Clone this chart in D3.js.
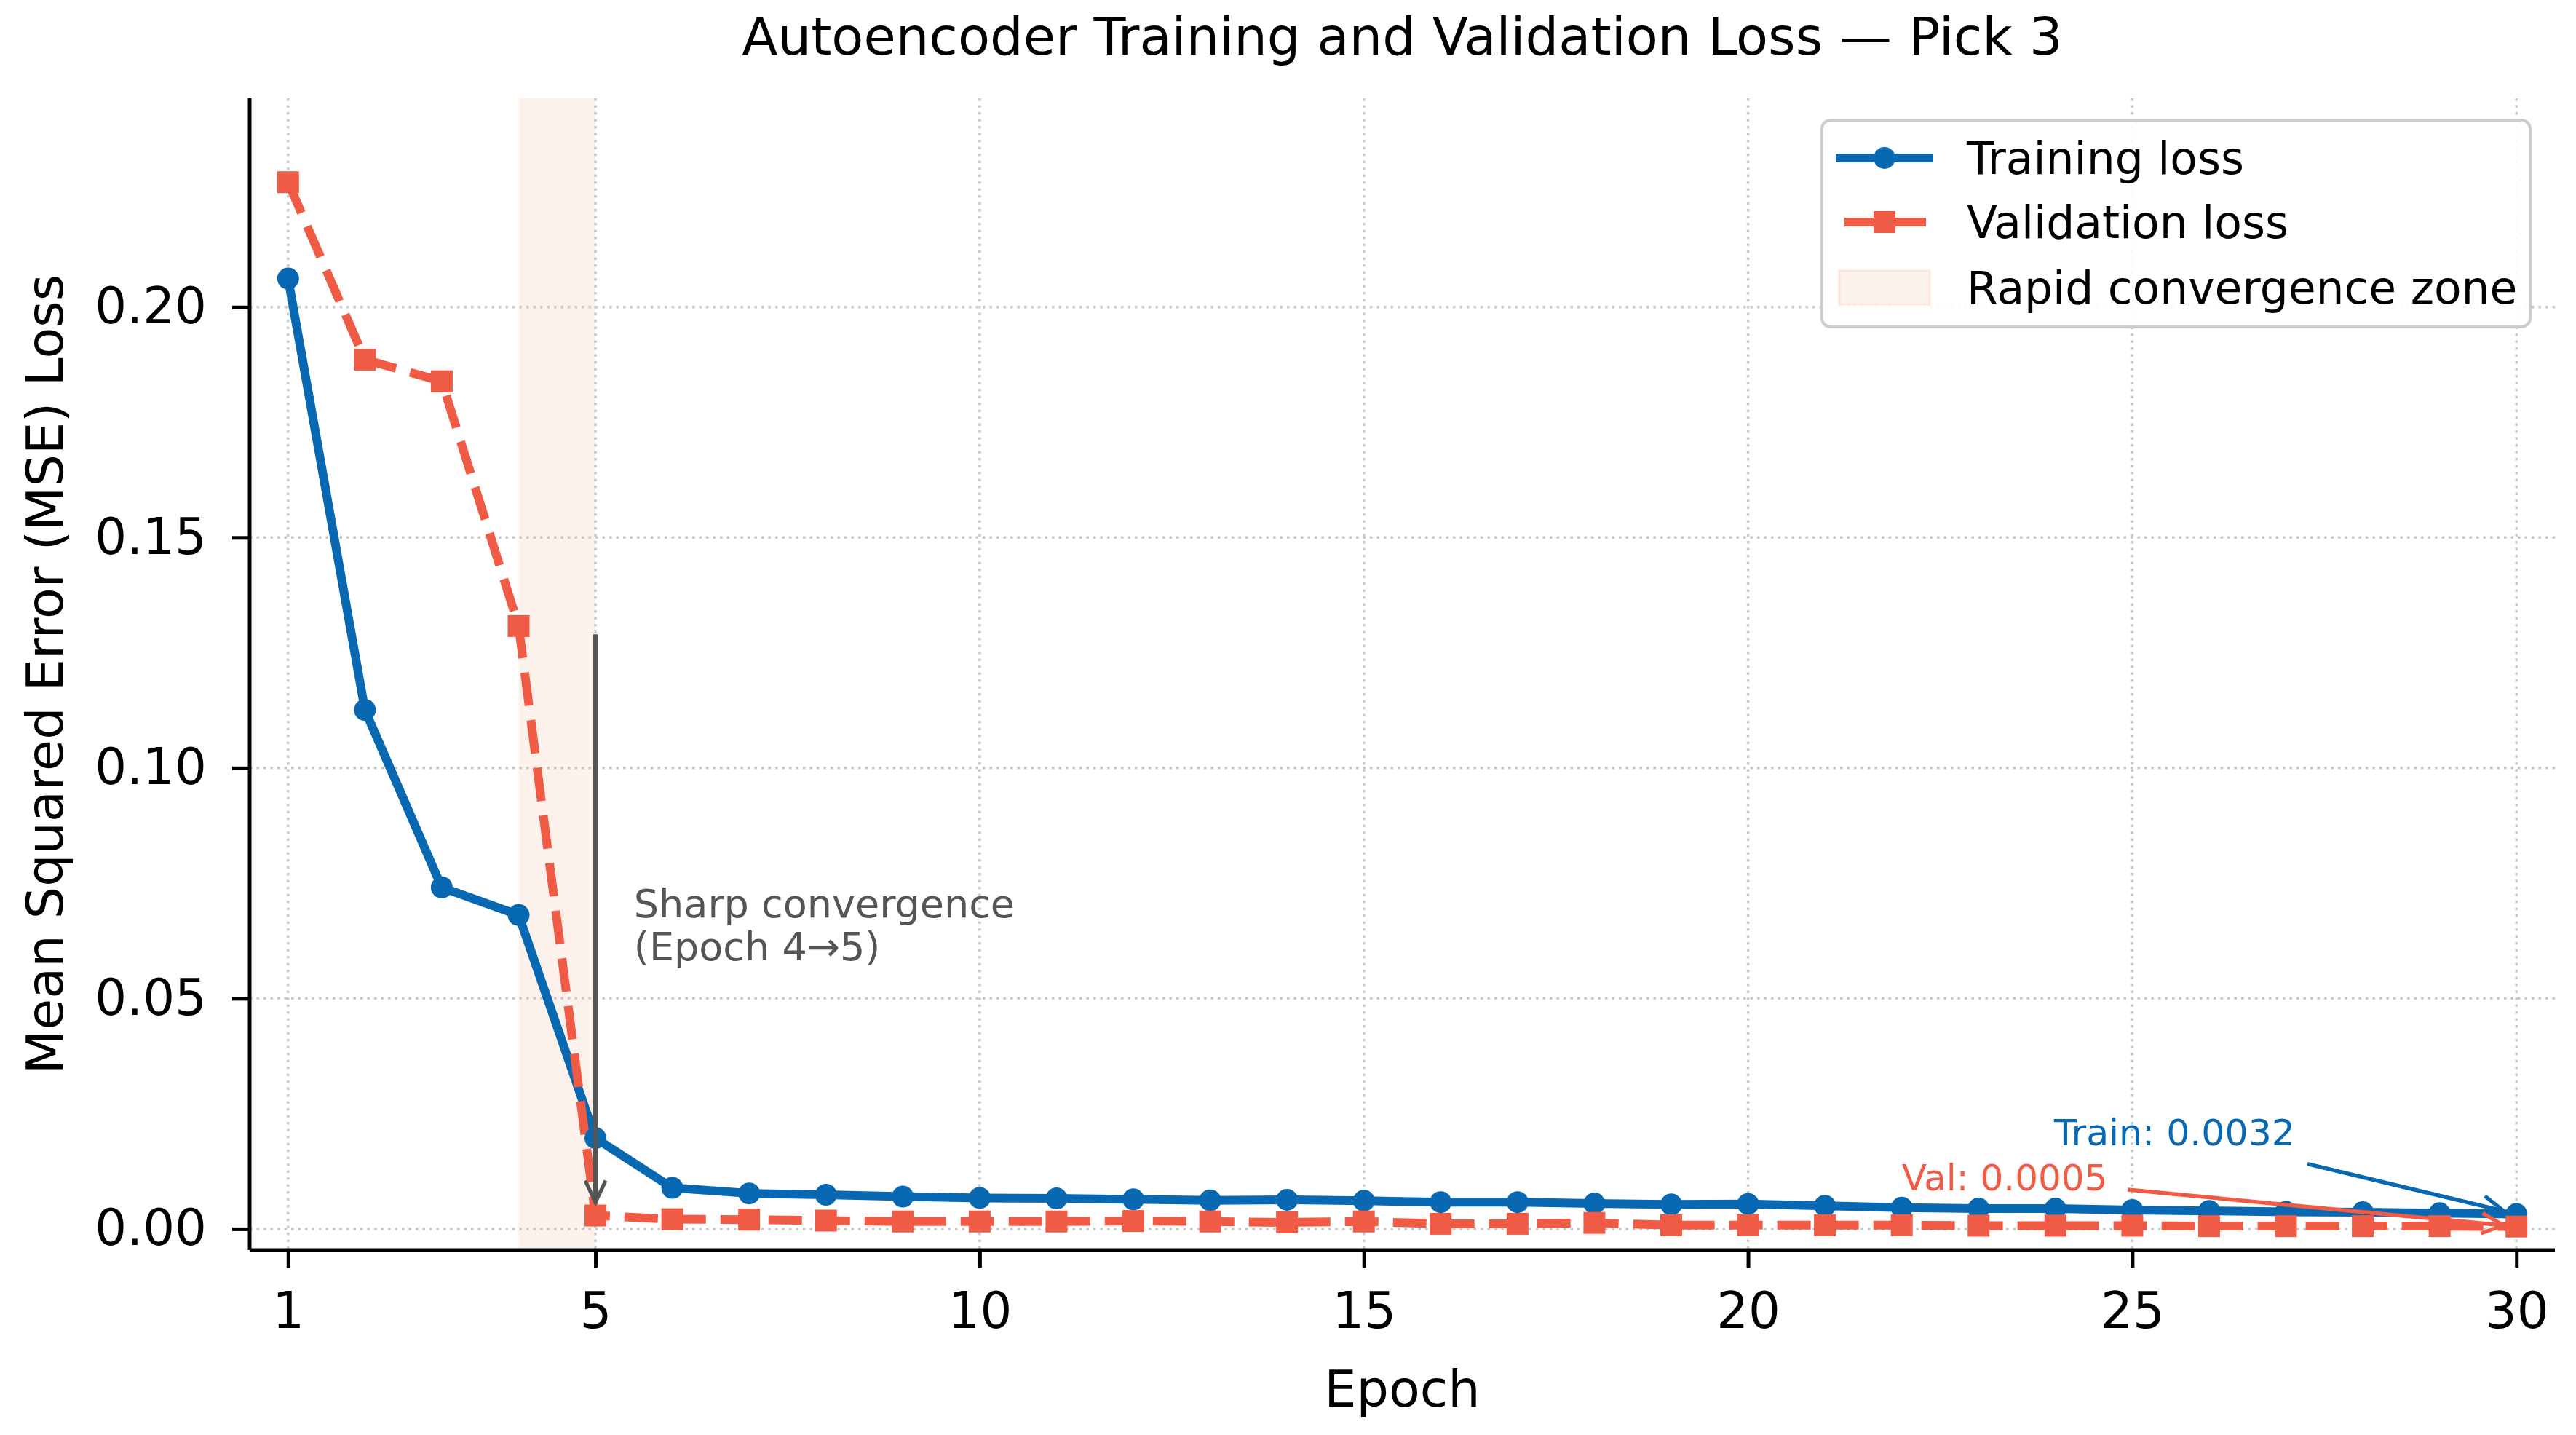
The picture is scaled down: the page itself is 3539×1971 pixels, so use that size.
<!DOCTYPE html>
<html>
<head>
<meta charset="utf-8">
<script src="https://cdn.jsdelivr.net/npm/d3@7"></script>
<style>
  html, body { margin: 0; padding: 0; background: #fff; }
  svg { display: block; font-family: "DejaVu Sans", sans-serif; }
</style>
</head>
<body>
<div id="chart"></div>
<script>
// data
const epochs = d3.range(1, 31);
const trainLoss = [0.2062, 0.1126, 0.0741, 0.0681, 0.0197, 0.0089, 0.0077, 0.0074, 0.0070, 0.0067,
                   0.0066, 0.0064, 0.0062, 0.0063, 0.0061, 0.0058, 0.0058, 0.0055, 0.0053, 0.0054,
                   0.0050, 0.0046, 0.0044, 0.0044, 0.0041, 0.0039, 0.0037, 0.0036, 0.0034, 0.0032];
const valLoss = [0.2271, 0.1886, 0.1839, 0.1308, 0.0029, 0.0021, 0.0020, 0.0018, 0.0016, 0.0016,
                 0.0016, 0.0017, 0.0016, 0.0014, 0.0016, 0.0011, 0.0011, 0.0013, 0.0008, 0.0008,
                 0.0008, 0.0008, 0.0007, 0.0007, 0.0007, 0.0006, 0.0006, 0.0006, 0.0006, 0.0005];
const xTicks = [1, 5, 10, 15, 20, 25, 30];
const yTicks = [0, 0.05, 0.10, 0.15, 0.20];
const zone = [4, 5];
const legendLabels = ["Training loss", "Validation loss", "Rapid convergence zone"];

const width = 3539, height = 1971;
const margin = { top: 135, right: 29, bottom: 254, left: 343 };
const innerW = width - margin.left - margin.right;
const innerH = height - margin.top - margin.bottom;

const blue = "#0868b2", red = "#f05b45", grey = "#555555";

const svg = d3.select("#chart").append("svg")
    .attr("width", width)
    .attr("height", height);

// arrowheads
const defs = svg.append("defs");
[["head-grey", grey], ["head-blue", blue], ["head-red", red]].forEach(([id, c]) => {
    defs.append("marker")
        .attr("id", id)
        .attr("viewBox", "-1 -8 18 16")
        .attr("refX", 15).attr("refY", 0)
        .attr("markerUnits", "userSpaceOnUse")
        .attr("markerWidth", 36).attr("markerHeight", 32)
        .attr("orient", "auto")
        .append("path")
        .attr("d", "M0,-7L15,0L0,7")
        .attr("fill", "none")
        .attr("stroke", c)
        .attr("stroke-width", 2.6)
        .attr("stroke-linejoin", "miter");
});

const g = svg.append("g").attr("transform", `translate(${margin.left},${margin.top})`);

const x = d3.scaleLinear().domain([0.5, 30.5]).range([0, innerW]);
const y = d3.scaleLinear().domain([-0.0046, 0.2453]).range([innerH, 0]);

// shaded zone
g.append("rect")
    .attr("x", x(zone[0]))
    .attr("width", x(zone[1]) - x(zone[0]))
    .attr("y", 0)
    .attr("height", innerH)
    .attr("fill", "#fdf1eb");

// grid
g.append("g").selectAll("line").data(xTicks).join("line")
    .attr("x1", d => x(d)).attr("x2", d => x(d))
    .attr("y1", 0).attr("y2", innerH)
    .attr("stroke", "#c8c8c8").attr("stroke-width", 3.5)
    .attr("stroke-dasharray", "3.5,6");
g.append("g").selectAll("line").data(yTicks).join("line")
    .attr("x1", 0).attr("x2", innerW)
    .attr("y1", d => y(d)).attr("y2", d => y(d))
    .attr("stroke", "#c8c8c8").attr("stroke-width", 3.5)
    .attr("stroke-dasharray", "3.5,6");

// lines
const line = d3.line().x((d, i) => x(epochs[i])).y(d => y(d));

g.append("path").datum(trainLoss)
    .attr("d", line)
    .attr("fill", "none")
    .attr("stroke", blue)
    .attr("stroke-width", 12)
    .attr("stroke-linejoin", "round");

g.append("path").datum(valLoss)
    .attr("d", line)
    .attr("fill", "none")
    .attr("stroke", red)
    .attr("stroke-width", 12)
    .attr("stroke-dasharray", "46,20");

g.append("g").selectAll("circle").data(trainLoss).join("circle")
    .attr("cx", (d, i) => x(epochs[i]))
    .attr("cy", d => y(d))
    .attr("r", 15)
    .attr("fill", blue);

g.append("g").selectAll("rect").data(valLoss).join("rect")
    .attr("x", (d, i) => x(epochs[i]) - 15)
    .attr("y", d => y(d) - 15)
    .attr("width", 30).attr("height", 30)
    .attr("fill", red);

// axes
const xAxis = g.append("g")
    .attr("transform", `translate(0,${innerH})`)
    .call(d3.axisBottom(x).tickValues(xTicks).tickSize(24).tickPadding(34).tickFormat(d3.format("d")));
const yAxis = g.append("g")
    .call(d3.axisLeft(y).tickValues(yTicks).tickSize(24).tickPadding(35).tickFormat(d3.format(".2f")));

[xAxis, yAxis].forEach(a => {
    a.select(".domain").attr("stroke", "#000").attr("stroke-width", 5);
    a.selectAll(".tick line").attr("stroke", "#000").attr("stroke-width", 5);
    a.selectAll(".tick text").attr("font-size", 69).attr("fill", "#000")
        .attr("font-family", "DejaVu Sans");
});
xAxis.select(".domain").attr("d", `M0,0H${innerW}`);
yAxis.select(".domain").attr("d", `M0,0V${innerH}`);

// annotations
const shrink = 18;
function arrow(x0, y0, x1, y1, color, id, w) {
    const px0 = x(x0), py0 = y(y0), px1 = x(x1), py1 = y(y1);
    const len = Math.hypot(px1 - px0, py1 - py0);
    const ex = px1 - (px1 - px0) / len * shrink;
    const ey = py1 - (py1 - py0) / len * shrink;
    g.append("line")
        .attr("x1", px0).attr("y1", py0)
        .attr("x2", ex).attr("y2", ey)
        .attr("stroke", color)
        .attr("stroke-width", w)
        .attr("marker-end", `url(#${id})`);
}

arrow(5, 0.129, 5, valLoss[4], grey, "head-grey", 6.5);
g.append("text")
    .attr("x", x(5.5))
    .attr("y", y(0.066))
    .attr("font-size", 54)
    .attr("fill", grey)
    .selectAll("tspan")
    .data(["Sharp convergence", "(Epoch 4\u21925)"])
    .join("tspan")
    .attr("x", x(5.5))
    .attr("dy", (d, i) => i === 0 ? -10 : 59)
    .text(d => d);

arrow(27.28, 0.0141, 30, trainLoss[29], blue, "head-blue", 5.5);
g.append("text")
    .attr("x", x(25.55)).attr("y", y(0.021))
    .attr("dy", "0.35em")
    .attr("text-anchor", "middle")
    .attr("font-size", 50.5)
    .attr("fill", blue)
    .text("Train: " + trainLoss[29].toFixed(4));

arrow(24.94, 0.0085, 30, valLoss[29], red, "head-red", 5.5);
g.append("text")
    .attr("x", x(23.34)).attr("y", y(0.0111))
    .attr("dy", "0.35em")
    .attr("text-anchor", "middle")
    .attr("font-size", 50)
    .attr("fill", red)
    .text("Val: " + valLoss[29].toFixed(4));

// titles
svg.append("text")
    .attr("x", margin.left + innerW / 2)
    .attr("y", 75)
    .attr("text-anchor", "middle")
    .attr("font-size", 72)
    .text("Autoencoder Training and Validation Loss \u2014 Pick 3");

svg.append("text")
    .attr("x", margin.left + innerW / 2)
    .attr("y", 1932)
    .attr("text-anchor", "middle")
    .attr("font-size", 70)
    .text("Epoch");

svg.append("text")
    .attr("transform", `translate(61,${margin.top + innerH / 2}) rotate(-90)`)
    .attr("dy", "0.35em")
    .attr("text-anchor", "middle")
    .attr("font-size", 70)
    .text("Mean Squared Error (MSE) Loss");

// legend
const lg = svg.append("g").attr("transform", "translate(2503,165)");
lg.append("rect")
    .attr("width", 973).attr("height", 284)
    .attr("rx", 12)
    .attr("fill", "#fff").attr("fill-opacity", 0.9)
    .attr("stroke", "#cccccc").attr("stroke-width", 4);

const rowY = [52, 140, 230];
lg.append("line").attr("x1", 19).attr("x2", 153).attr("y1", rowY[0]).attr("y2", rowY[0])
    .attr("stroke", blue).attr("stroke-width", 12);
lg.append("circle").attr("cx", 86).attr("cy", rowY[0]).attr("r", 15).attr("fill", blue);

lg.append("line").attr("x1", 19).attr("x2", 153).attr("y1", rowY[1]).attr("y2", rowY[1])
    .attr("stroke", red).attr("stroke-width", 12).attr("stroke-dasharray", "46,20")
    .attr("stroke-dashoffset", -12);
lg.append("rect").attr("x", 71).attr("y", rowY[1] - 15).attr("width", 30).attr("height", 30).attr("fill", red);

lg.append("rect").attr("x", 24).attr("y", rowY[2] - 23).attr("width", 124).attr("height", 46)
    .attr("fill", "#fdf1eb").attr("stroke", "#fbe5dc").attr("stroke-width", 3);

lg.selectAll("text.lab").data(legendLabels).join("text")
    .attr("class", "lab")
    .attr("x", 199)
    .attr("y", (d, i) => rowY[i])
    .attr("dy", "0.35em")
    .attr("font-size", 61.5)
    .text(d => d);
</script>
</body>
</html>
